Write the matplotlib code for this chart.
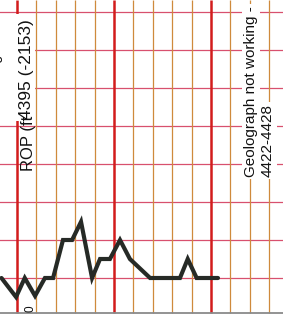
import matplotlib
matplotlib.use("Agg")
import matplotlib.pyplot as plt
from matplotlib.patches import Rectangle

# ROP trace (x in minor grid columns, y in grid rows)
depth_pos = [-0.8, -0.05, 0.4, 0.93, 1.44, 1.86, 2.37, 2.84, 3.3, 3.87,
             4.28, 4.79, 5.31, 5.82, 6.86, 8.4, 8.8, 9.26, 10.36]
rop = [0.0, -0.5, 0.0, -0.47, 0.0, 0.0, 1.0, 1.0, 1.48, 0.0,
       0.5, 0.5, 1.0, 0.5, 0.0, 0.0, 0.5, 0.0, 0.0]

col_lines = list(range(0, 14))
row_lines = list(range(0, 8))
major_cols = [0, 5, 10]

W, H = 283, 319
PX_COL, PX_ROW = 19.4, 38.0
X0, Y0 = 17, 278


def ux(px):
    return (px - X0) / PX_COL


def vy(py):
    return (Y0 - py) / PX_ROW


fig = plt.figure(figsize=(W / 100, H / 100), dpi=100)
ax = fig.add_axes([0, 0, 1, 1])
ax.set_xlim(ux(0), ux(W))
ax.set_ylim(vy(H), vy(0))
ax.axis("off")

bottom = vy(313)
top = vy(0)

# chart paper grid
for r in row_lines:
    ax.axhline(r, color="#d8506e", lw=0.9, zorder=1)
for c in col_lines:
    if c in major_cols:
        ax.vlines(c, bottom, top, color="#d21c1c", lw=1.8, zorder=2)
    else:
        ax.vlines(c, bottom, top, color="#cf8a3c", lw=0.9, zorder=1)
ax.axhline(bottom, color="#8a8a8a", lw=1.3, zorder=2)

# white patch behind the header text on the left
ax.add_patch(Rectangle((ux(0), vy(121)), ux(35) - ux(0), vy(14) - vy(121),
                       facecolor="white", edgecolor="none", zorder=3))

font = ["Liberation Sans", "DejaVu Sans"]
tc = "#111111"
# word cut off at the left edge of the scan, only its lower edge shows
ax.text(ux(0.5), vy(80), "Bit change", rotation=90, rotation_mode="anchor",
        ha="center", va="baseline", fontsize=10, color=tc, family=font, zorder=4)
ax.text(ux(29), vy(171), "ROP (ft", rotation=90, rotation_mode="anchor",
        ha="left", va="center", fontsize=12, color=tc, family=font, zorder=4)
ax.text(ux(26.5), vy(119), "4395 (-2153)", rotation=90, rotation_mode="anchor",
        ha="left", va="center", fontsize=12.5, color=tc, family=font, zorder=4)
box = dict(facecolor="white", edgecolor="none", pad=1.5)
ax.text(ux(251), vy(177), "Geolograph not working -", rotation=90, rotation_mode="anchor",
        ha="left", va="center", fontsize=11, color=tc, family=font, zorder=4, bbox=box)
ax.text(ux(268), vy(177), "4422-4428", rotation=90, rotation_mode="anchor",
        ha="left", va="center", fontsize=11, color=tc, family=font, zorder=4, bbox=box)
ax.text(ux(30.5), vy(309), "0", rotation=90, rotation_mode="anchor",
        ha="center", va="center", fontsize=8.5, color=tc, family=font, zorder=4)

ax.plot(depth_pos, rop, color="#262a26", lw=3.0, solid_capstyle="round",
        solid_joinstyle="miter", zorder=5)

fig.savefig("out.png", dpi=100)
plt.close(fig)
